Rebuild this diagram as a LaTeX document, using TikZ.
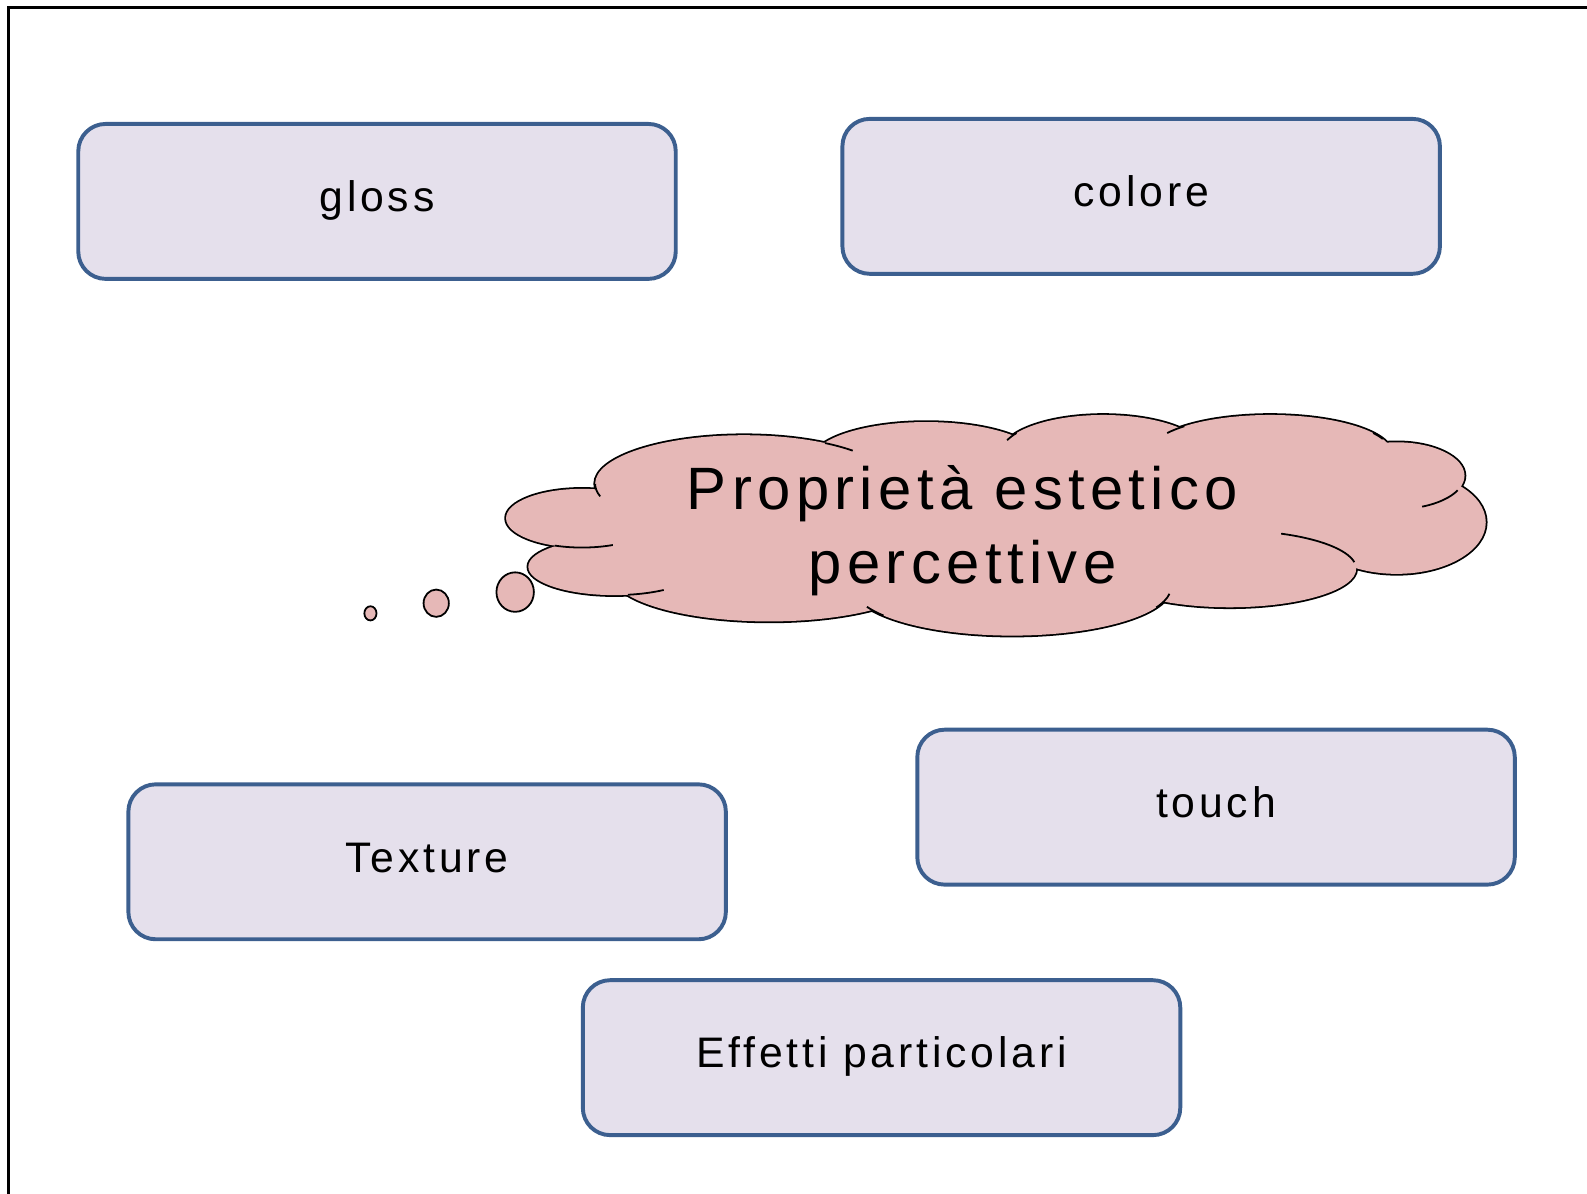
\documentclass[tikz,border=0pt]{standalone}
\usepackage{fontspec}
\setmainfont{Liberation Sans}[LetterSpace=9]
\usepackage[HTML]{xcolor}
\usepackage{tikz}
\usetikzlibrary{positioning}

\definecolor{boxfill}{HTML}{E5E0EC}
\definecolor{boxline}{HTML}{3C5F8F}
\definecolor{cloudfill}{HTML}{E6B8B7}
\def\lobes{575/512/75/29, 607/560/85/28, 735/478/147/48, 760/568/155/46,
  915/455/113/38, 1090/448/101/38, 1255/448/120/38, 1380/470/67/33,
  1380/516/88/51, 1215/562/125/38, 1000/580/157/48}

\begin{document}
\begin{tikzpicture}[x=0.01cm,y=-0.01cm,
  box/.style={draw=boxline,fill=boxfill,line width=1.1pt,rounded corners=0.27cm,
    minimum width=5.9cm,minimum height=1.53cm,text height=0.77em,text depth=0.19em,
    font=\fontsize{12}{14}\selectfont},
  lobe/.style={line width=1pt},
  seam/.style={line width=0.5pt}]
\useasboundingbox (0,0) rectangle (1568,1179);
\draw[line width=0.8pt] (1575,7) -- (8.5,7) -- (8.5,1185);

\node[box] (gloss) at (372.5,199) {gloss};
\node[box] (colore) at (1127.5,194) {colore};
\node[box] (texture) at (422,851.5) {Texture};
\node[box] (touch) at (1201.5,797.5) {touch};
\node[box] (effetti) at (871,1045) {Effetti particolari};

\foreach \cx/\cy/\rx/\ry in \lobes
  \draw[lobe] (\cx,\cy) ellipse [x radius=\rx, y radius=\ry];
\foreach \cx/\cy/\rx/\ry in \lobes
  \fill[cloudfill] (\cx,\cy) ellipse [x radius=\rx, y radius=\ry];
\fill[cloudfill] (960,515) ellipse [x radius=400, y radius=80];
\foreach \cx/\cy/\rx/\ry/\a/\b in {575/512/75/29/66/111, 607/560/85/28/55/81,
    735/478/147/48/-57/-43, 735/478/147/48/165/180, 1090/448/101/38/-160/-148,
    1255/448/120/38/-148/-135, 1255/448/120/38/-32/-22, 1380/470/67/33/26/68,
    1215/562/125/38/-66/-10, 1000/580/157/48/144/156, 1000/580/157/48/8/25}
  \draw[seam] ({\cx+\rx*cos(\a)},{\cy+\ry*sin(\a)}) arc[start angle=\a, end angle=\b, x radius=\rx, y radius=\ry];
\foreach \bx/\by/\br in {366/606/6, 431/596/12.5, 509/585/18.5}
  \draw[seam,fill=cloudfill] (\bx,\by) ellipse [x radius=\br, y radius=\br+1];

\node[font=\fontsize{16.8}{20.8}\selectfont,align=center] (idea) at (951,524) {Proprietà estetico\\percettive};
\end{tikzpicture}
\end{document}
